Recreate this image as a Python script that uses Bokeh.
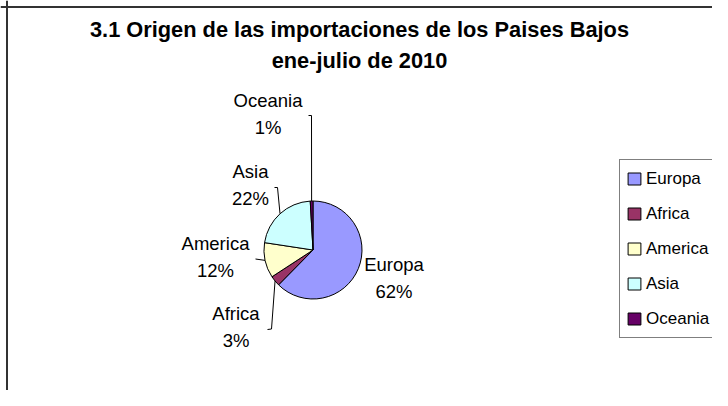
import math
from bokeh.plotting import figure
from bokeh.models import ColumnDataSource, Range1d, Legend, LegendItem, Label, Span
from bokeh.core.properties import value
from bokeh.embed import file_html
from bokeh.resources import INLINE

# ---- data ----
categories = ["Europa", "Africa", "America", "Asia", "Oceania"]
shares = [62.4, 3.4, 11.6, 21.7, 0.9]
colors = ["#9999FF", "#993366", "#FFFFCC", "#CCFFFF", "#660066"]
title_lines = ["3.1 Origen de las importaciones de los Paises Bajos", "ene-julio de 2010"]

# ---- layout (pixels from the picture's top-left) ----
W, H = 712, 390
FONT = "Liberation Sans"
LABEL_SIZE = "18.5px"
LEGEND_SIZE = "17px"


def dy(screen_y):
    return H - screen_y


CX, CY, R = 312.5, dy(249.5), 49
label_pos = {"Europa": (393.5, 277), "Africa": (235.5, 326.5), "America": (215, 256.5),
             "Asia": (250, 184.5), "Oceania": (267.5, 113.5)}
half_gap = 13.5
leader_pts = {"Oceania": [(308, 115), (311, 115)], "Asia": [(274, 187), (277, 187)],
              "America": [(255, 258.5)], "Africa": [(267, 329), (271, 328.5)]}

p = figure(width=W, height=H, output_backend="svg", toolbar_location=None,
           x_range=Range1d(0, W), y_range=Range1d(0, H),
           min_border=0, x_axis_type=None, y_axis_type=None)
p.grid.visible = False
p.outline_line_color = None
p.background_fill_color = "white"

total = sum(shares)
cum = [0.0]
for v in shares:
    cum.append(cum[-1] + v / total)
start = [math.pi / 2 - 2 * math.pi * cum[i + 1] for i in range(len(shares))]
end = [math.pi / 2 - 2 * math.pi * cum[i] for i in range(len(shares))]
mid = [math.pi / 2 - 2 * math.pi * (cum[i] + cum[i + 1]) / 2 for i in range(len(shares))]

src = ColumnDataSource(dict(cat=categories, val=shares, color=colors,
                            start=start, end=end))
r = p.wedge(x=CX, y=CY, radius=R, start_angle="start", end_angle="end",
            direction="anticlock", fill_color="color", line_color="black",
            line_width=1, source=src)

# leader lines
xs, ys = [], []
for i, c in enumerate(categories):
    if c in leader_pts:
        ex = CX + R * math.cos(mid[i])
        ey = CY + R * math.sin(mid[i])
        pts = leader_pts[c]
        xs.append([q[0] for q in pts] + [ex])
        ys.append([dy(q[1]) for q in pts] + [ey])
p.multi_line(xs, ys, line_color="black", line_width=1)

# data labels
nx, ny, pct_y, pct = [], [], [], []
for i, c in enumerate(categories):
    lx, ly = label_pos[c]
    nx.append(lx)
    ny.append(dy(ly - half_gap))
    pct_y.append(dy(ly + half_gap))
    pct.append(f"{round(shares[i] / total * 100)}%")
lab_src = ColumnDataSource(dict(x=nx, ny=ny, py=pct_y, name=categories, pct=pct))
for col, txt in (("ny", "name"), ("py", "pct")):
    p.text(x="x", y=col, text=txt, source=lab_src, text_font=value(FONT),
           text_font_size=value(LABEL_SIZE), text_align="center",
           text_baseline="middle", text_color="black")

# title
for t, sy_ in zip(title_lines, (29, 59.5)):
    p.add_layout(Label(x=359, y=dy(sy_), text=t, text_align="center",
                       text_baseline="middle", text_font=FONT,
                       text_font_size="21.8px", text_font_style="bold",
                       text_color="black"))

# chart border (left and top edges visible in the window)
p.add_layout(Span(location=6.5, dimension="height", line_color="#333333", line_width=2))
p.add_layout(Span(location=dy(6.5), dimension="width", line_color="#333333", line_width=2))

# legend (box runs past the right edge, as in the original)
items = [LegendItem(label=c, renderers=[r], index=i) for i, c in enumerate(categories)]
legend = Legend(items=items, location=(619, H - 338), orientation="vertical",
                margin=0, padding=6, spacing=10, label_height=25, label_width=110,
                glyph_width=16, glyph_height=15, label_standoff=4,
                border_line_color="black", border_line_width=1,
                background_fill_color="white", background_fill_alpha=1.0,
                label_text_font=FONT, label_text_font_size=LEGEND_SIZE,
                label_text_color="black")
p.add_layout(legend)

open("out.html", "w").write(file_html(p, INLINE))
